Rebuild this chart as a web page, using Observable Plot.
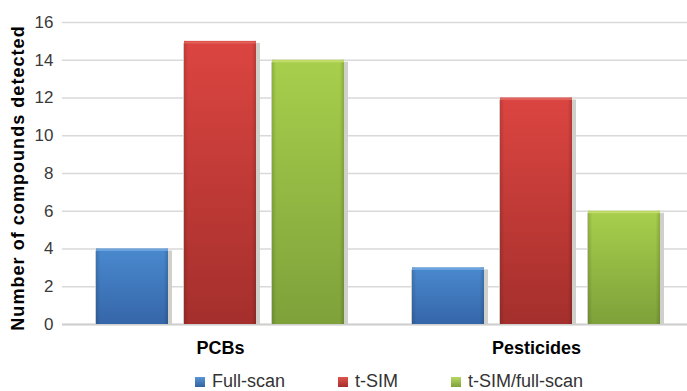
<!DOCTYPE html>
<html>
<head>
<meta charset="utf-8">
<script src="https://cdn.jsdelivr.net/npm/d3@7"></script>
<script src="https://cdn.jsdelivr.net/npm/@observablehq/plot@0.6"></script>
<style>
  body { margin: 0; background: #fff; }
  #wrap { position: relative; width: 687px; height: 391px; font-family: "Liberation Sans", Arial, sans-serif; color: #333; }
  #chart svg { display: block; }
  #chart g[aria-label^="fx-axis"] text { font-weight: bold; font-size: 18px; fill: #000; }
  #ytitle {
    position: absolute; left: 18px; top: 178px;
    transform: translate(-50%, -50%) rotate(-90deg);
    white-space: nowrap; font-weight: bold; font-size: 18px; letter-spacing: 1.05px; color: #000;
  }
  #legend {
    position: absolute; left: 195px; top: 372px; height: 18px; line-height: 18px;
    display: flex; align-items: center; gap: 53px; font-size: 18px; color: #333;
  }
  #legend .item { display: flex; align-items: center; gap: 7px; }
  #legend .sw { width: 10px; height: 10px; margin-top: 2px; }
</style>
</head>
<body>
<svg width="0" height="0" style="position:absolute">
  <defs>
    <linearGradient id="g-blue" x1="0" y1="0" x2="0" y2="1">
      <stop offset="0" stop-color="#4a89cf"/>
      <stop offset="1" stop-color="#3566a9"/>
    </linearGradient>
    <linearGradient id="g-red" x1="0" y1="0" x2="0" y2="1">
      <stop offset="0" stop-color="#dc4541"/>
      <stop offset="1" stop-color="#a42f2c"/>
    </linearGradient>
    <linearGradient id="g-green" x1="0" y1="0" x2="0" y2="1">
      <stop offset="0" stop-color="#a8cf4c"/>
      <stop offset="1" stop-color="#7ea13a"/>
    </linearGradient>
    <linearGradient id="g-edge" x1="0" y1="0" x2="1" y2="0">
      <stop offset="0" stop-color="#000" stop-opacity="0.14"/>
      <stop offset="0.06" stop-color="#000" stop-opacity="0"/>
      <stop offset="0.94" stop-color="#000" stop-opacity="0"/>
      <stop offset="1" stop-color="#000" stop-opacity="0.16"/>
    </linearGradient>
  </defs>
</svg>
<div id="wrap">
  <div id="chart"></div>
  <div id="ytitle">Number of compounds detected</div>
  <div id="legend"></div>
</div>
<script>
// Compound classes on the x axis and acquisition modes within each class
const groups = ["PCBs", "Pesticides"];
const series = ["Full-scan", "t-SIM", "t-SIM/full-scan"];

// Number of compounds detected per acquisition mode
const pcbValues = [4, 15, 14];
const pesticideValues = [3, 12, 6];

const yTicks = [0, 2, 4, 6, 8, 10, 12, 14, 16];

// Bar body gradients and top-edge highlights per acquisition mode
const barFill = {"Full-scan": "url(#g-blue)", "t-SIM": "url(#g-red)", "t-SIM/full-scan": "url(#g-green)"};
const topEdge = {"Full-scan": "#6aa3de", "t-SIM": "#e0625c", "t-SIM/full-scan": "#c3dc6c"};
const swatch = {
  "Full-scan": "linear-gradient(#5a95d6, #33639f)",
  "t-SIM": "linear-gradient(#e0534e, #a52f2c)",
  "t-SIM/full-scan": "linear-gradient(#b6d865, #7ea13a)"
};

const rows = [];
series.forEach((s, i) => {
  rows.push({group: "PCBs", series: s, value: pcbValues[i]});
  rows.push({group: "Pesticides", series: s, value: pesticideValues[i]});
});

const chart = Plot.plot({
  width: 687,
  height: 362,
  marginTop: 22,
  marginBottom: 38,
  marginLeft: 62,
  marginRight: 0,
  style: {fontFamily: "Liberation Sans, Arial, sans-serif", fontSize: "17px", color: "#3a3a3a", background: "#fff"},
  facet: {data: rows, x: "group"},
  fx: {domain: groups, range: [62, 694], padding: 0, axis: "bottom", tickSize: 0, tickPadding: 17, label: null},
  x: {domain: series, axis: null, paddingInner: 0.182, paddingOuter: 0.386},
  y: {domain: [0, 16], ticks: yTicks, tickSize: 0, tickPadding: 9, label: null},
  color: {type: "identity"},
  marks: [
    Plot.ruleY(yTicks, {stroke: "#d9d9d9", strokeWidth: 1.3}),
    Plot.ruleY([0], {stroke: "#cfcfcf", strokeWidth: 2}),
    // soft drop shadow behind each bar
    Plot.barY(rows, {x: "series", y: "value", fill: "#cfcfcc", insetLeft: -1, insetRight: -4, insetTop: 2, insetBottom: -1}),
    Plot.barY(rows, {x: "series", y: "value", fill: d => barFill[d.series]}),
    Plot.barY(rows, {x: "series", y: "value", fill: "url(#g-edge)"}),
    Plot.tickY(rows, {x: "series", y: "value", stroke: d => topEdge[d.series], strokeWidth: 2, dy: 1})
  ]
});
document.getElementById("chart").append(chart);

const legend = d3.select("#legend");
series.forEach(s => {
  const item = legend.append("div").attr("class", "item");
  item.append("div").attr("class", "sw").style("background", swatch[s]);
  item.append("span").text(s);
});
</script>
</body>
</html>
